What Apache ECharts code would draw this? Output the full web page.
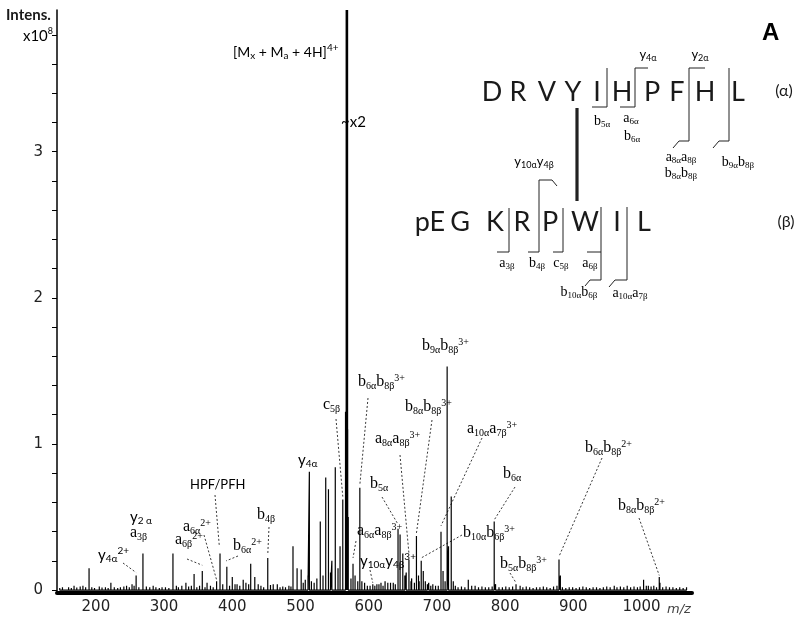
<!DOCTYPE html>
<html>
<head>
<meta charset="utf-8">
<script src="https://cdn.jsdelivr.net/npm/echarts@6/dist/echarts.min.js"></script>
<style>
html, body { margin: 0; padding: 0; background: #fff; }
#chart { width: 800px; height: 623px; }
</style>
</head>
<body>
<div id="chart"></div>
<script>
// spectrum: [m/z, intensity x10^8]
const peaks = [
  [190,0.15],[222,0.05],[253,0.04],[259,0.10],[269,0.25],[284,0.03],[313,0.25],[326,0.03],[332,0.05],
  [344,0.11],[356,0.13],[363,0.05],[377,0.06],[382,0.25],[392,0.16],[400,0.09],[407,0.04],[416,0.07],
  [427,0.18],[433,0.09],[452,0.22],[460,0.04],[466,0.04],[489,0.30],[495,0.15],[501,0.14],[507,0.07],
  [511,0.10],[513,0.81],[520,0.05],[529,0.47],[537,0.77],[541,0.69],[546,0.20],[551,0.84],[555,0.15],
  [558,0.30],[562,0.62],[566,1.22],[567,1.20],[569,1.10],[570,0.50],[577,0.18],[580,0.10],[587,0.70],
  [590,0.06],[606,0.04],[612,0.04],[618,0.05],[624,0.06],[628,0.05],[632,0.05],[636,0.05],[643,0.42],
  [646,0.38],[650,0.25],[655,0.12],[659,0.21],[663,0.08],[670,0.37],[673,0.10],[677,0.20],[680,0.13],
  [683,0.06],[688,0.05],[694,0.04],[706,0.40],[709,0.13],[715,1.53],[717,0.30],[721,0.64],[724,0.06],
  [746,0.07],[756,0.03],[784,0.47],[786,0.04],[816,0.04],[822,0.03],[879,0.21],[881,0.10],[960,0.03],
  [1003,0.07],[1010,0.03],[1026,0.09],[1027,0.05]
]
// small peaks along the baseline
const noise = [
  [147,0.015],[151,0.02],[156,0.012],[160,0.02],[164,0.015],[168,0.03],[172,0.018],[177,0.025],[181,0.03],
  [185,0.02],[194,0.02],[198,0.015],[205,0.025],[209,0.018],[214,0.02],[218,0.015],[227,0.02],[232,0.015],
  [236,0.02],[241,0.025],[245,0.03],[249,0.02],[256,0.03],[263,0.02],[274,0.025],[279,0.02],[288,0.02],
  [293,0.015],[297,0.02],[302,0.02],[307,0.015],[318,0.03],[321,0.02],[336,0.025],[340,0.03],[348,0.02],
  [352,0.03],[360,0.02],[368,0.03],[372,0.02],[386,0.04],[396,0.03],[404,0.04],[411,0.03],[420,0.05],
  [424,0.04],[438,0.04],[442,0.03],[446,0.02],[456,0.035],[470,0.02],[474,0.025],[478,0.02],[483,0.03],
  [486,0.025],[504,0.05],[516,0.06],[524,0.08],[533,0.1],[544,0.12],[574,0.08],[584,0.06],[594,0.05],
  [598,0.03],[602,0.03],[609,0.03],[615,0.04],[621,0.03],[639,0.04],[653,0.1],[662,0.06],[667,0.05],
  [674,0.06],[686,0.04],[691,0.03],[698,0.03],[702,0.03],[712,0.06],[727,0.03],[731,0.02],[736,0.025],
  [741,0.02],[751,0.03],[761,0.02],[766,0.025],[771,0.02],[776,0.02],[781,0.025],[791,0.02],[796,0.02],
  [801,0.025],[806,0.02],[811,0.025],[826,0.02],[831,0.025],[836,0.02],[841,0.015],[846,0.02],[851,0.02],
  [856,0.025],[861,0.02],[866,0.015],[871,0.025],[876,0.03],[884,0.02],[889,0.015],[894,0.02],[899,0.02],
  [904,0.015],[909,0.02],[914,0.025],[919,0.02],[924,0.015],[929,0.02],[934,0.02],[939,0.015],[944,0.02],
  [949,0.025],[954,0.02],[964,0.02],[969,0.025],[974,0.02],[979,0.03],[984,0.02],[989,0.025],[994,0.02],
  [998,0.025],[1007,0.03],[1014,0.025],[1018,0.03],[1022,0.02],[1031,0.02],[1036,0.025],[1041,0.02],
  [1046,0.02],[1051,0.015],[1056,0.02],[1061,0.015],[1066,0.02]
]
// [Mx+Ma+4H]4+ , off the scale
const precursor = [568, 3.97]

const xTicks = [200, 300, 400, 500, 600, 700, 800, 900, 1000]
const yTicks = [0,0.2,0.4,0.6,0.8,1,1.2,1.4,1.6,1.8,2,2.2,2.4,2.6,2.8,3,3.2,3.4,3.6,3.8]
const yLabels = [0, 1, 2, 3]

// peak labels: markup, font (n serif / s sans), left x, mid y, leader start, leader end [m/z, int]
const annotations = [
  ['[M_{x} + M_{a} + 4H]^{4+}', 'm', 233, 52],
  ['~x2', 's', 341, 122],
  ['y_{4α}^{2+}', 's', 98, 555, [123, 563], [259, 0.12]],
  ['y_{2 α}', 's', 130, 517],
  ['a_{3β}', 'n', 130, 533],
  ['HPF/PFH', 'h', 190, 485, [215, 495], [381, 0.3]],
  ['a_{6α}^{2+}', 'n', 183, 527, [204, 535], [377, 0.07]],
  ['a_{6β}^{2+}', 'n', 175, 540, [187, 559], [356, 0.17]],
  ['b_{6α}^{2+}', 'n', 233, 546, [238, 556], [391, 0.2]],
  ['b_{4β}', 'n', 257, 515, [269, 527], [452, 0.24]],
  ['y_{4α}', 's', 298, 460],
  ['c_{5β}', 'n', 323, 405, [336, 419], [562, 0.64]],
  ['b_{6α}b_{8β}^{3+}', 'n', 358, 382, [368, 398], [587, 0.72]],
  ['b_{8α}b_{8β}^{3+}', 'n', 405, 407, [432, 420], [670, 0.39]],
  ['a_{8α}a_{8β}^{3+}', 'n', 375, 439, [400, 455], [659, 0.25]],
  ['b_{5α}', 'n', 370, 484, [382, 497], [643, 0.45]],
  ['a_{6α}a_{8β}^{3+}', 'n', 357, 531, [356, 541], [577, 0.22]],
  ['y_{10α}y_{4β}^{3+}', 's', 360, 561, [370, 570], [606, 0.05]],
  ['b_{9α}b_{8β}^{3+}', 'n', 422, 346],
  ['a_{10α}a_{7β}^{3+}', 'n', 467, 429, [482, 438], [706, 0.44]],
  ['b_{6α}', 'n', 503, 474, [515, 487], [784, 0.48]],
  ['b_{10α}b_{6β}^{3+}', 'n', 463, 533, [462, 535], [677, 0.22]],
  ['b_{5α}b_{8β}^{3+}', 'n', 500, 564, [510, 573], [816, 0.05]],
  ['b_{6α}b_{8β}^{2+}', 'n', 585, 448, [602, 458], [879, 0.23]],
  ['b_{8α}b_{8β}^{2+}', 'n', 618, 506, [639, 518], [1026, 0.1]]
]

// cross-linked peptides
const alphaSeq = ['D','R','V','Y','I','H','P','F','H','L']
const alphaX = [492, 518, 547, 573, 597, 622, 652, 677, 705, 738]
const betaSeq = ['pE','G','K','R','P','W','I','L']
const betaX = [430, 460, 495, 522, 550, 585, 617, 644]
const cleavages = [
  [[592,107],[607,107],[607,68]],
  [[620,107],[635,107],[635,68],[648,68]],
  [[705,68],[689,68],[689,141],[679,141],[673,148]],
  [[729,68],[729,141],[719,141],[713,148]],
  [[528,252],[539,252],[539,180],[552,180],[557,186]],
  [[497,252],[509,252],[509,208]],
  [[553,252],[563,252],[563,208]],
  [[587,252],[601,252]],
  [[601,207],[601,280],[590,280],[585,286]],
  [[627,207],[627,280],[615,280],[609,287]]
]
const fragLabels = [
  ['y_{4α}', 's', 648, 55], ['y_{2α}', 's', 700, 55],
  ['b_{5α}', 'n', 602, 121], ['a_{6α}', 'n', 631, 118], ['b_{6α}', 'n', 632, 136],
  ['a_{8α}a_{8β}', 'n', 681, 157], ['b_{8α}b_{8β}', 'n', 681, 173], ['b_{9α}b_{8β}', 'n', 738, 162],
  ['y_{10α}y_{4β}', 's', 534, 162],
  ['a_{3β}', 'n', 507, 263], ['b_{4β}', 'n', 537, 263], ['c_{5β}', 'n', 561, 263], ['a_{6β}', 'n', 590, 263],
  ['b_{10α}b_{6β}', 'n', 579, 292], ['a_{10α}a_{7β}', 'n', 630, 293]
]

const SERIF = 'Liberation Serif'
const SANS = 'Lato'
const INK = '#1a1a1a'

function richSet(big, sub) {
  const lh = big + 2
  return {
    n: { fontFamily: SERIF, fontSize: big, lineHeight: lh, color: INK },
    nb: { fontFamily: SERIF, fontSize: sub, lineHeight: sub + 1, verticalAlign: 'bottom', color: '#333' },
    np: { fontFamily: SERIF, fontSize: sub, lineHeight: sub + 1, verticalAlign: 'top', color: '#333' },
    s: { fontFamily: SANS, fontSize: big - 1, lineHeight: lh, color: INK },
    sb: { fontFamily: SANS, fontSize: sub, lineHeight: sub + 1, verticalAlign: 'bottom', color: '#333' },
    sp: { fontFamily: SANS, fontSize: sub, lineHeight: sub + 1, verticalAlign: 'top', color: '#333' },
    m: { fontFamily: SANS, fontSize: 14, lineHeight: lh, color: INK },
    mb: { fontFamily: SANS, fontSize: sub, lineHeight: sub + 1, verticalAlign: 'bottom', color: '#333' },
    mp: { fontFamily: SANS, fontSize: sub, lineHeight: sub + 1, verticalAlign: 'top', color: '#333' },
    h: { fontFamily: SANS, fontSize: 13, lineHeight: lh, color: INK }
  }
}
const richBig = richSet(16, 10)
const richSmall = richSet(14, 9)

// "b_{9α}b_{8β}^{3+}" -> rich text string
function toRich(markup, f) {
  let out = ''
  const re = /([_^])\{([^}]*)\}|([^_^]+)/g
  let m
  while ((m = re.exec(markup))) {
    if (m[3]) out += '{' + f + '|' + m[3] + '}'
    else out += '{' + f + (m[1] === '_' ? 'b' : 'p') + '|' + m[2] + '}'
  }
  return out
}

function sticks(list) {
  const pts = []
  list.slice().sort((a, b) => a[0] - b[0]).forEach(p => {
    pts.push([p[0], 0], [p[0], p[1]], [p[0], 0])
  })
  return pts
}

const chart = echarts.init(document.getElementById('chart'), null, { renderer: 'canvas' })

chart.setOption({
  animation: false,
  grid: { left: 57, right: 108, top: 10, bottom: 30 },
  xAxis: {
    type: 'value', min: 143, max: 1074,
    axisLine: { onZero: false, lineStyle: { color: '#000', width: 4 } },
    axisTick: { show: false },
    splitLine: { show: false },
    axisLabel: {
      customValues: xTicks, margin: 7, fontFamily: 'DejaVu Sans', fontSize: 15, color: '#222',
      formatter: v => String(v)
    }
  },
  yAxis: {
    type: 'value', min: -0.02, max: 3.97,
    axisLine: { show: true, lineStyle: { color: '#000', width: 1.5 } },
    axisTick: { show: true, customValues: yTicks, length: 5, lineStyle: { color: '#000', width: 1 } },
    splitLine: { show: false },
    axisLabel: { customValues: yLabels, margin: 14, fontFamily: 'DejaVu Sans', fontSize: 15, color: '#222' }
  },
  series: [
    {
      type: 'line', data: sticks(peaks.concat(noise)), symbol: 'none', silent: true,
      lineStyle: { color: '#000', width: 1.2 }
    },
    {
      type: 'line', data: [[precursor[0], 0], [precursor[0], precursor[1]]], symbol: 'none', silent: true,
      lineStyle: { color: '#000', width: 2.6 }
    }
  ]
})

const g = []
const line = (pts, w, dash) => ({
  type: 'polyline', silent: true, shape: { points: pts },
  style: { stroke: '#222', lineWidth: w, fill: null, lineDash: dash || null }
})
const text = (x, y, str, style) => ({
  type: 'text', silent: true, x: x, y: y, style: Object.assign({ text: str }, style)
})

annotations.forEach(a => {
  g.push(text(a[2], a[3], toRich(a[0], a[1]), { rich: richBig, align: 'left', verticalAlign: 'middle' }))
  if (a[4]) {
    const end = chart.convertToPixel({ gridIndex: 0 }, a[5])
    g.push(line([a[4], end], 0.9, [2, 2]))
  }
})

// axis titles
g.push(text(6, 15, 'Intens.', { fontFamily: SANS, fontWeight: 'bold', fontSize: 15, fill: INK, verticalAlign: 'middle' }))
g.push(text(53, 36, '{a|x10}{b|8}', {
  align: 'right', verticalAlign: 'middle',
  rich: { a: { fontFamily: SANS, fontSize: 15, lineHeight: 18, color: INK }, b: { fontFamily: SANS, fontSize: 9, lineHeight: 10, verticalAlign: 'top', color: INK } }
}))
g.push(text(667, 610, 'm/z', { fontFamily: 'DejaVu Sans', fontStyle: 'italic', fontSize: 13, fill: '#444', verticalAlign: 'middle' }))
g.push(text(762, 33, 'A', { fontFamily: 'Liberation Sans', fontWeight: 'bold', fontSize: 24, fill: '#000', verticalAlign: 'middle' }))

// peptides
alphaSeq.forEach((s, i) => g.push(text(alphaX[i], 92, s, { fontFamily: SANS, fontSize: 27, fill: INK, align: 'center', verticalAlign: 'middle' })))
betaSeq.forEach((s, i) => g.push(text(betaX[i], 222, s, { fontFamily: SANS, fontSize: 27, fill: INK, align: 'center', verticalAlign: 'middle' })))
g.push(text(784, 91, '(α)', { fontFamily: SANS, fontSize: 16, fill: INK, align: 'center', verticalAlign: 'middle' }))
g.push(text(786, 222, '(β)', { fontFamily: SANS, fontSize: 16, fill: INK, align: 'center', verticalAlign: 'middle' }))
g.push(line([[577, 108], [577, 201]], 3.2))
cleavages.forEach(c => g.push(line(c, 1)))
fragLabels.forEach(f => g.push(text(f[2], f[3], toRich(f[0], f[1]), { rich: richSmall, align: 'center', verticalAlign: 'middle' })))

chart.setOption({ graphic: { elements: g } })
</script>
</body>
</html>
